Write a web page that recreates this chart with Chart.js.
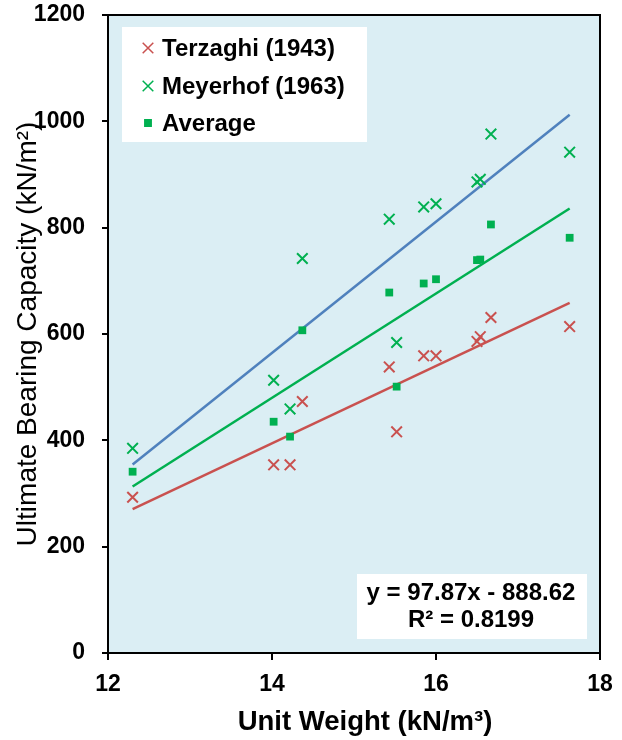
<!DOCTYPE html>
<html><head><meta charset="utf-8">
<script src="https://cdn.jsdelivr.net/npm/chart.js@4"></script>
<style>html,body{margin:0;padding:0;background:#fff;}#wrap{width:622px;height:740px;}</style>
</head><body><div id="wrap"><canvas id="c" width="622" height="740"></canvas></div>
<script>
// ---- data ----
const unitWeight = [12.3, 14.02, 14.22, 14.37, 15.43, 15.52, 15.85, 16.0, 16.5, 16.54, 16.67, 17.63];
const terzaghi   = [293, 354, 354, 473, 538, 416, 559, 559, 586, 595, 631, 614];
const meyerhof   = [385, 513, 459, 742, 816, 584, 839, 845, 886, 891, 976, 942];
const average    = [341, 435, 407, 607, 678, 501, 695, 703, 739, 740, 806, 781];
const xTickValues = [12, 14, 16, 18];
const yTickValues = [0, 200, 400, 600, 800, 1000, 1200];
const seriesLabels = ['Terzaghi (1943)', 'Meyerhof (1963)', 'Average'];
const equationLines = ['y = 97.87x - 888.62', 'R\u00B2 = 0.8199'];
const xTitle = 'Unit Weight (kN/m\u00B3)';
const yTitle = 'Ultimate Bearing Capacity (kN/m\u00B2)';

const RED = '#C9514F', GREEN = '#00B050', BLUE = '#4F81BD', PLOTBG = '#DBEEF4';
const FONT = 'Liberation Sans, Arial, sans-serif';

function fit(xs, ys) {
  const n = xs.length;
  const mx = xs.reduce((a, b) => a + b, 0) / n;
  const my = ys.reduce((a, b) => a + b, 0) / n;
  let sxy = 0, sxx = 0;
  for (let i = 0; i < n; i++) { sxy += (xs[i] - mx) * (ys[i] - my); sxx += (xs[i] - mx) ** 2; }
  const m = sxy / sxx;
  return { m, b: my - m * mx };
}
function trend(ys) {
  const f = fit(unitWeight, ys);
  const x0 = Math.min(...unitWeight), x1 = Math.max(...unitWeight);
  return [{ x: x0, y: f.m * x0 + f.b }, { x: x1, y: f.m * x1 + f.b }];
}
function pts(ys) { return unitWeight.map((x, i) => ({ x, y: ys[i] })); }

const decor = {
  id: 'decor',
  beforeDraw(chart) {
    const { ctx, chartArea: a } = chart;
    ctx.save();
    ctx.fillStyle = '#fff';
    ctx.fillRect(0, 0, chart.width, chart.height);
    ctx.fillStyle = PLOTBG;
    ctx.fillRect(a.left, a.top, a.right - a.left, a.bottom - a.top);
    ctx.restore();
  },
  afterDraw(chart) {
    const { ctx, chartArea: a } = chart;
    ctx.save();
    ctx.strokeStyle = '#000';
    ctx.lineWidth = 2;
    ctx.strokeRect(a.left, a.top, a.right - a.left, a.bottom - a.top);
    // x axis title (offset to the right as in the reference)
    ctx.fillStyle = '#000';
    ctx.font = 'bold 27.5px ' + FONT;
    ctx.textAlign = 'center';
    ctx.textBaseline = 'middle';
    ctx.fillText(xTitle, 365, 722);
    // legend
    ctx.fillStyle = '#fff';
    ctx.fillRect(122, 27, 245, 115);
    const ys = [48, 86, 123];
    ctx.font = 'bold 24px ' + FONT;
    ctx.textBaseline = 'middle';
    ctx.textAlign = 'left';
    for (let i = 0; i < 3; i++) {
      const ds = chart.data.datasets[i];
      ctx.save();
      ctx.strokeStyle = ds.borderColor;
      ctx.fillStyle = ds.backgroundColor || ds.borderColor;
      ctx.lineWidth = 1.5;
      Chart.helpers.drawPoint(ctx, { pointStyle: ds.pointStyle, radius: ds.pointStyle === 'rect' ? 4.5 : 7.5, rotation: 0, borderWidth: 1.5 }, 148, ys[i]);
      ctx.restore();
      ctx.fillStyle = '#000';
      ctx.fillText(ds.label, 162, ys[i] + 1);
    }
    // equation box
    ctx.fillStyle = '#fff';
    ctx.fillRect(357, 574, 230, 65);
    ctx.fillStyle = '#000';
    ctx.textAlign = 'center';
    ctx.fillText(equationLines[0], 471, 593);
    ctx.fillText(equationLines[1], 471, 620);
    ctx.restore();
  }
};

const tickFont = { family: FONT, size: 23, weight: 'bold' };

new Chart(document.getElementById('c'), {
  type: 'scatter',
  data: {
    datasets: [
      { label: seriesLabels[0], data: pts(terzaghi), pointStyle: 'crossRot', pointRadius: 7.5, borderColor: RED, backgroundColor: RED, pointBorderWidth: 2 },
      { label: seriesLabels[1], data: pts(meyerhof), pointStyle: 'crossRot', pointRadius: 7.5, borderColor: GREEN, backgroundColor: GREEN, pointBorderWidth: 2 },
      { label: seriesLabels[2], data: pts(average), pointStyle: 'rect', pointRadius: 5.5, borderColor: GREEN, backgroundColor: GREEN, pointBorderWidth: 0 },
      { label: 'trendT', data: trend(terzaghi), showLine: true, pointRadius: 0, borderColor: RED, borderWidth: 2.5 },
      { label: 'trendM', data: trend(meyerhof), showLine: true, pointRadius: 0, borderColor: BLUE, borderWidth: 2.5 },
      { label: 'trendA', data: trend(average), showLine: true, pointRadius: 0, borderColor: GREEN, borderWidth: 2.5 }
    ]
  },
  options: {
    responsive: false,
    animation: false,
    devicePixelRatio: 1,
    layout: { padding: { top: 15, right: 22, left: 0, bottom: 0 } },
    plugins: { legend: { display: false }, tooltip: { enabled: false } },
    scales: {
      x: {
        type: 'linear', min: 12, max: 18,
        afterBuildTicks: s => { s.ticks = xTickValues.map(v => ({ value: v })); },
        afterFit: s => { s.height = 87; s.paddingLeft = 0; s.paddingRight = 0; },
        ticks: { font: tickFont, color: '#000', padding: 11, maxRotation: 0, callback: v => String(v) },
        grid: { drawOnChartArea: false, drawTicks: true, tickLength: 7, color: '#000', lineWidth: 2 },
        border: { display: true, color: '#000', width: 2 },
        title: { display: false }
      },
      y: {
        type: 'linear', min: 0, max: 1200,
        afterBuildTicks: s => { s.ticks = yTickValues.map(v => ({ value: v })); },
        afterFit: s => { s.width = 108; s.paddingTop = 0; s.paddingBottom = 0; },
        ticks: { font: tickFont, color: '#000', padding: 17, callback: v => String(v) },
        grid: { drawOnChartArea: false, drawTicks: true, tickLength: 6, color: '#000', lineWidth: 2 },
        border: { display: true, color: '#000', width: 2 },
        title: { display: true, text: yTitle, font: { family: FONT, size: 28, weight: 'normal' }, color: '#000', padding: { top: 11, bottom: 0 } }
      }
    }
  },
  plugins: [decor]
});
</script></body></html>
